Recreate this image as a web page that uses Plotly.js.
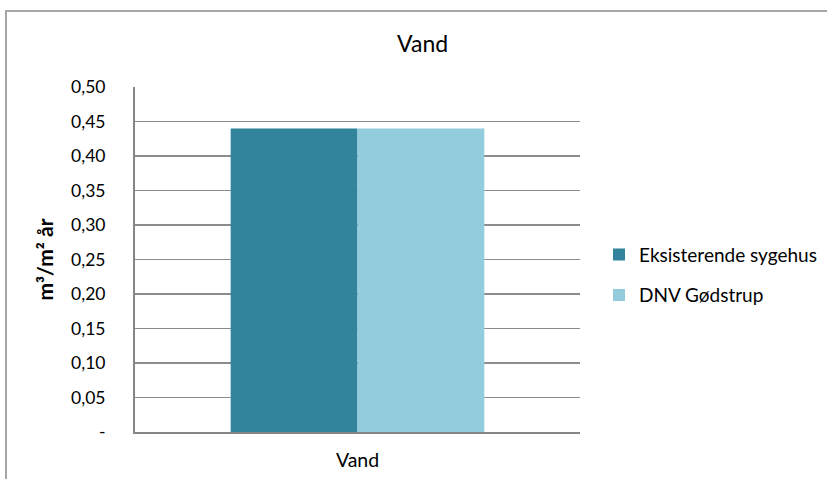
<!DOCTYPE html>
<html><head><meta charset="utf-8">
<script src="https://cdn.plot.ly/plotly-3.0.1.min.js"></script>
<style>
html,body{margin:0;padding:0;overflow:hidden;background:#fff;}
#wrap{position:absolute;left:0;top:0;width:827px;height:479px;}
#chart{position:absolute;left:0;top:0;width:827px;height:479px;}
#frame{position:absolute;left:5px;top:10px;width:900px;height:600px;border:2px solid #a6a6a6;pointer-events:none;box-sizing:border-box;}
</style></head>
<body>
<div id="wrap"><div id="chart"></div><div id="frame"></div></div>
<script>
const categories = ["Vand"];
const seriesNames = ["Eksisterende sygehus", "DNV Gødstrup"];
const seriesValues = [[0.44], [0.44]];
const seriesColors = ["#31849b", "#93cddd"];
const tickVals = [0, 0.05, 0.10, 0.15, 0.20, 0.25, 0.30, 0.35, 0.40, 0.45, 0.50];
const tickText = ["-", "0,05", "0,10", "0,15", "0,20", "0,25", "0,30", "0,35", "0,40", "0,45", "0,50"];

const font = "Lato, Open Sans, sans-serif";
const traces = seriesNames.map((n, i) => ({
  type: "bar", name: n, x: categories, y: seriesValues[i],
  marker: {color: seriesColors[i], line: {width: 0}},
  legendgroup: "g" + i, hoverinfo: "skip"
}));

const layout = {
  width: 827, height: 479,
  margin: {l: 135, r: 247, t: 87, b: 47, autoexpand: false},
  paper_bgcolor: "#fff", plot_bgcolor: "#fff",
  font: {family: font, size: 17, color: "#000"},
  title: {text: "Vand", x: 0.511, xanchor: "center", y: 0.908, yanchor: "middle", font: {size: 23, family: font}},
  barmode: "group", bargap: 0.43, bargroupgap: 0,
  showlegend: true,
  legend: {x: 1.0427, xanchor: "left", y: 0.455, yanchor: "middle", traceorder: "grouped", tracegroupgap: 13,
           font: {size: 19, family: font}, itemwidth: 30},
  xaxis: {type: "category", showline: true, linecolor: "#868686", linewidth: 2, ticks: "", showgrid: false,
          tickfont: {size: 19.5}, ticklabelstandoff: 10, fixedrange: true},
  yaxis: {range: [0, 0.5], tickvals: tickVals, ticktext: tickText, showgrid: true, gridcolor: "#8c8c8c", gridwidth: 1.5,
          showline: true, linecolor: "#868686", linewidth: 2, ticks: "", zeroline: false,
          tickfont: {size: 17.5}, ticklabelstandoff: 24,
          title: {text: "<b>m³/m² år</b>", font: {size: 21}, standoff: 12}, fixedrange: true}
};
Plotly.newPlot("chart", traces, layout, {displayModeBar: false, staticPlot: true});
</script>
</body></html>
